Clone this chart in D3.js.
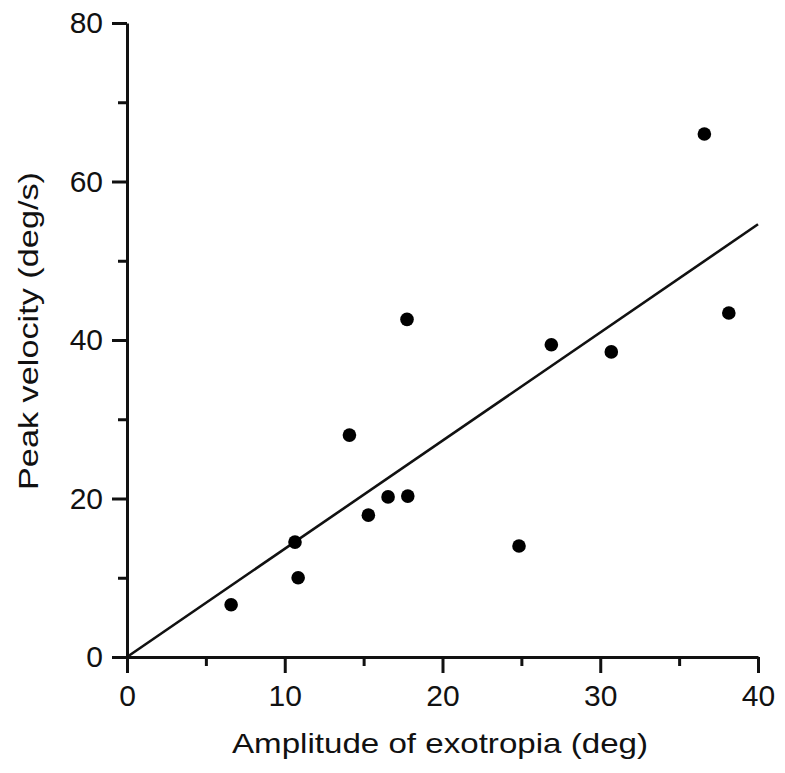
<!DOCTYPE html>
<html>
<head>
<meta charset="utf-8">
<script src="https://cdn.jsdelivr.net/npm/d3@7/dist/d3.min.js"></script>
<style>
  html, body { margin: 0; padding: 0; background: #fff; }
  svg text { font-family: "Liberation Sans", Arial, Helvetica, sans-serif; fill: #111; }
</style>
</head>
<body>
<svg id="chart" width="785" height="773"></svg>
<script>
// Data
const amplitude = [6.6, 10.65, 10.85, 14.1, 15.3, 16.55, 17.8, 17.75, 24.85, 26.9, 30.7, 36.6, 38.15];
const peakVelocity = [6.6, 14.5, 10.0, 28.0, 17.9, 20.2, 20.3, 42.6, 14.0, 39.4, 38.5, 66.0, 43.4];
const fitX = [0, 40];
const fitY = [0, 54.6];
const xMajorTicks = [0, 10, 20, 30, 40];
const xMinorTicks = [5, 15, 25, 35];
const yMajorTicks = [0, 20, 40, 60, 80];
const yMinorTicks = [10, 30, 50, 70];
const xTitle = "Amplitude of exotropia (deg)";
const yTitle = "Peak velocity (deg/s)";

const svg = d3.select("#chart");
const x = d3.scaleLinear().domain([0, 40]).range([127, 758]);
const y = d3.scaleLinear().domain([0, 80]).range([657, 23]);

const axisColor = "#111";
const fontSize = 30;

// Minor ticks
const xMinor = d3.axisBottom(x).tickValues(xMinorTicks).tickSize(9).tickFormat("");
const gxm = svg.append("g").attr("transform", "translate(0,657)").call(xMinor);
gxm.select(".domain").remove();
gxm.selectAll("line").attr("stroke", axisColor).attr("stroke-width", 3);

const yMinor = d3.axisLeft(y).tickValues(yMinorTicks).tickSize(9).tickFormat("");
const gym = svg.append("g").attr("transform", "translate(127,0)").call(yMinor);
gym.select(".domain").remove();
gym.selectAll("line").attr("stroke", axisColor).attr("stroke-width", 3);

// Major axes
const xAxis = d3.axisBottom(x).tickValues(xMajorTicks).tickSize(16).tickSizeOuter(0).tickPadding(10).tickFormat(d3.format("d"));
const gx = svg.append("g").attr("transform", "translate(0,657)").call(xAxis);
gx.select(".domain").attr("stroke", axisColor).attr("stroke-width", 3);
gx.selectAll("line").attr("stroke", axisColor).attr("stroke-width", 3);
gx.selectAll("text").attr("font-size", fontSize).attr("fill", axisColor).attr("dy", "0.75em")
  .attr("y", 26);

const yAxis = d3.axisLeft(y).tickValues(yMajorTicks).tickSize(15).tickSizeOuter(0).tickPadding(9).tickFormat(d3.format("d"));
const gy = svg.append("g").attr("transform", "translate(127,0)").call(yAxis);
gy.select(".domain").attr("stroke", axisColor).attr("stroke-width", 3);
gy.selectAll("line").attr("stroke", axisColor).attr("stroke-width", 3);
gy.selectAll("text").attr("font-size", fontSize).attr("fill", axisColor);

// Regression line
const line = d3.line().x(d => x(d[0])).y(d => y(d[1]));
svg.append("path")
  .datum(fitX.map((v, i) => [v, fitY[i]]))
  .attr("d", line)
  .attr("fill", "none")
  .attr("stroke", axisColor)
  .attr("stroke-width", 2.6);

// Points
svg.append("g").selectAll("circle")
  .data(amplitude.map((v, i) => [v, peakVelocity[i]]))
  .join("circle")
  .attr("cx", d => x(d[0]))
  .attr("cy", d => y(d[1]))
  .attr("r", 6.8)
  .attr("fill", "#000");

// Titles
svg.append("text")
  .attr("x", 440)
  .attr("y", 753)
  .attr("text-anchor", "middle")
  .attr("font-size", 28)
  .attr("textLength", 416)
  .attr("lengthAdjust", "spacingAndGlyphs")
  .text(xTitle);

svg.append("text")
  .attr("transform", "translate(38,331) rotate(-90)")
  .attr("text-anchor", "middle")
  .attr("font-size", 28)
  .attr("textLength", 318)
  .attr("lengthAdjust", "spacingAndGlyphs")
  .text(yTitle);
</script>
</body>
</html>
